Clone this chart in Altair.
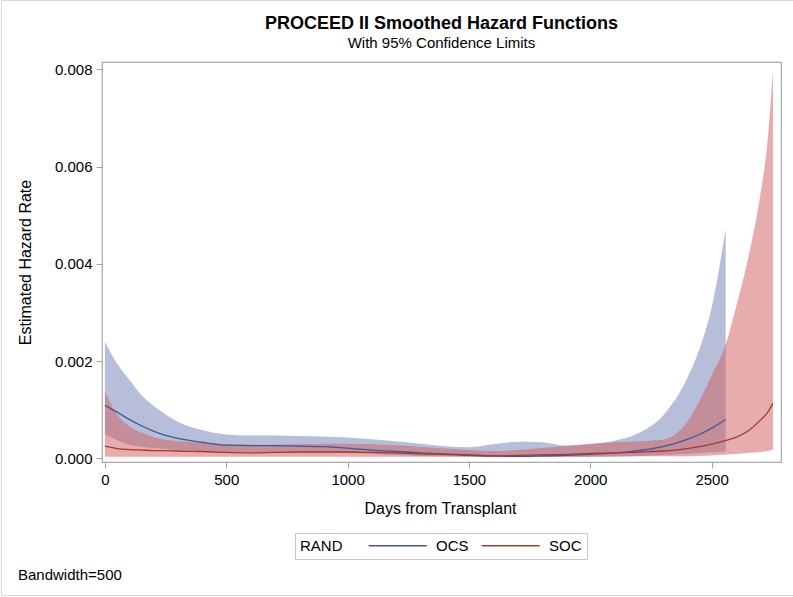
import altair as alt
import pandas as pd

# ---------------- data ----------------
groups = ["OCS", "SOC"]

ocs_days = [0, 50, 100, 150, 200, 250, 300, 400, 500, 600, 700, 800, 900, 1000,
            1100, 1200, 1300, 1400, 1500, 1600, 1700, 1800, 1900, 2000, 2100,
            2200, 2300, 2400, 2450, 2500, 2558]
ocs_est = [0.00109, 0.00095, 0.00080, 0.00067, 0.00056, 0.00047, 0.00041, 0.00033,
           0.00027, 0.00026, 0.00026, 0.00025, 0.00024, 0.00021, 0.00017, 0.00014,
           0.00011, 0.00009, 0.00007, 0.00005, 0.00004, 0.00005, 0.00006, 0.00008,
           0.00011, 0.00016, 0.00024, 0.00039, 0.00049, 0.00062, 0.00080]
ocs_upper = [0.00240, 0.00195, 0.00162, 0.00130, 0.00108, 0.00090, 0.00075, 0.00058,
             0.00049, 0.00047, 0.00047, 0.00046, 0.00045, 0.00043, 0.00039, 0.00035,
             0.00030, 0.00025, 0.00023, 0.00029, 0.00034, 0.00033, 0.00026, 0.00029,
             0.00036, 0.00052, 0.00088, 0.00165, 0.00225, 0.00310, 0.00472]
ocs_lower = [0.00050, 0.00037, 0.00028, 0.00024, 0.00021, 0.00019, 0.00017, 0.00015,
             0.00013, 0.00012, 0.00012, 0.00012, 0.00011, 0.00011, 0.00009, 0.00007,
             0.00005, 0.00004, 0.00003, 0.00002, 0.00002, 0.00002, 0.00003, 0.00003,
             0.00004, 0.00005, 0.00007, 0.00009, 0.00011, 0.00012, 0.00014]

soc_days = [0, 50, 100, 150, 200, 250, 300, 400, 500, 600, 700, 800, 900, 1000,
            1100, 1200, 1300, 1400, 1500, 1600, 1700, 1800, 1900, 2000, 2100,
            2200, 2300, 2350, 2400, 2450, 2500, 2560, 2600, 2650, 2700, 2730, 2753]
soc_est = [0.00025, 0.00020, 0.00018, 0.00017, 0.00016, 0.00016, 0.00015, 0.00014,
           0.00012, 0.00011, 0.00012, 0.00013, 0.00013, 0.00013, 0.00012, 0.00011,
           0.00009, 0.00008, 0.00006, 0.00005, 0.00006, 0.00007, 0.00008, 0.00010,
           0.00011, 0.00013, 0.00015, 0.00017, 0.00020, 0.00024, 0.00029, 0.00037,
           0.00043, 0.00056, 0.00078, 0.00094, 0.00113]
soc_upper = [0.00138, 0.00090, 0.00066, 0.00053, 0.00044, 0.00038, 0.00035, 0.00032,
             0.00029, 0.00028, 0.00028, 0.00029, 0.00030, 0.00030, 0.00029, 0.00027,
             0.00024, 0.00020, 0.00017, 0.00015, 0.00017, 0.00021, 0.00026, 0.00030,
             0.00033, 0.00035, 0.00038, 0.00049, 0.00075, 0.00118, 0.00170, 0.00237,
             0.00310, 0.00410, 0.00540, 0.00650, 0.00800]
soc_lower = [0.00003, 0.00003, 0.00003, 0.00003, 0.00003, 0.00003, 0.00003, 0.00003,
             0.00003, 0.00003, 0.00003, 0.00003, 0.00003, 0.00003, 0.00003, 0.00003,
             0.00003, 0.00003, 0.00003, 0.00003, 0.00003, 0.00003, 0.00003, 0.00003,
             0.00003, 0.00004, 0.00004, 0.00004, 0.00004, 0.00005, 0.00006, 0.00008,
             0.00009, 0.00011, 0.00013, 0.00015, 0.00018]

x_ticks = [0, 500, 1000, 1500, 2000, 2500]
y_ticks = [0.0, 0.002, 0.004, 0.006, 0.008]

fill_colors = ["#6F7EB3", "#D05B5B"]
line_colors = ["#445694", "#A23A2E"]

rows = []
for g, days, est, lo, up in [("OCS", ocs_days, ocs_est, ocs_lower, ocs_upper),
                             ("SOC", soc_days, soc_est, soc_lower, soc_upper)]:
    for d, e, l, u in zip(days, est, lo, up):
        rows.append({"day": d, "group": g, "band": g + " band",
                     "est": e, "lower": l, "upper": u})
df = pd.DataFrame(rows)
note_df = pd.DataFrame({"t": ["Bandwidth=500"]})

FONT = "Liberation Sans"

xscale = alt.Scale(domain=[-12, 2786], nice=False, zero=False)
yscale = alt.Scale(domain=[-0.000076, 0.008154], nice=False, zero=False)

base = alt.Chart(df)

area = base.mark_area(interpolate="monotone", fillOpacity=0.5).encode(
    x=alt.X("day:Q", scale=xscale,
            axis=alt.Axis(values=x_ticks, format="d", title="Days from Transplant",
                          titleX=338, titleY=51, titleBaseline="alphabetic",
                          titleAlign="center")),
    y=alt.Y("lower:Q", scale=yscale,
            axis=alt.Axis(values=y_ticks, format=".3f", title="Estimated Hazard Rate",
                          titleX=-71.5, titleY=200, titleAngle=-90,
                          titleBaseline="alphabetic", titleAlign="center")),
    y2="upper:Q",
    fill=alt.Fill("band:N",
                  scale=alt.Scale(domain=["OCS band", "SOC band"], range=fill_colors),
                  legend=None),
)

line = base.mark_line(interpolate="monotone", strokeWidth=1.3).encode(
    x=alt.X("day:Q", scale=xscale),
    y=alt.Y("est:Q", scale=yscale),
    stroke=alt.Stroke(
        "group:N",
        scale=alt.Scale(domain=groups, range=line_colors),
        legend=alt.Legend(
            title="RAND", orient="none", legendX=193, legendY=471,
            direction="horizontal", titleOrient="left", titlePadding=24,
            symbolType="M-1,0H9", symbolSize=134.6, symbolStrokeWidth=1.3,
            labelOffset=54, columnPadding=10, padding=5,
            strokeColor="#c8c8c8", labelFontSize=15, titleFontSize=15,
            titleFontWeight="normal", titleColor="black", labelColor="black",
            titleFont=FONT, labelFont=FONT,
        ),
    ),
)

note = alt.Chart(note_df).mark_text(
    align="left", baseline="alphabetic", fontSize=15, font=FONT, color="black"
).encode(x=alt.value(-84), y=alt.value(518), text="t:N")

border = alt.Chart(note_df).mark_rect(
    fillOpacity=0, stroke="#d8d8d8", strokeWidth=1
).encode(x=alt.value(-100.5), x2=alt.value(700), y=alt.value(-61.5), y2=alt.value(533.5))

chart = (
    alt.layer(border, area, line, note)
    .properties(
        width=679,
        height=400,
        autosize=alt.AutoSizeParams(type="none"),
        padding={"left": 102, "top": 62, "right": 12, "bottom": 135},
        background="white",
        title=alt.TitleParams(
            text="PROCEED II Smoothed Hazard Functions",
            subtitle="With 95% Confidence Limits",
            anchor="middle", frame="group", offset=10, dy=61,
            fontSize=18, fontWeight="bold", font=FONT, color="black",
            subtitleFontSize=15, subtitleFont=FONT, subtitleColor="black",
            subtitlePadding=3,
        ),
    )
    .configure_view(stroke="#a9a9a9", strokeWidth=1.2)
    .configure_axis(
        domain=False, grid=False, tickColor="#a0a0a0", tickSize=6,
        labelFont=FONT, labelFontSize=15, labelColor="black", labelPadding=4,
        titleFont=FONT, titleFontSize=16, titleFontWeight="normal", titleColor="black",
    )
)

chart.save("out.html", embed_options={"renderer": "svg", "actions": False})
